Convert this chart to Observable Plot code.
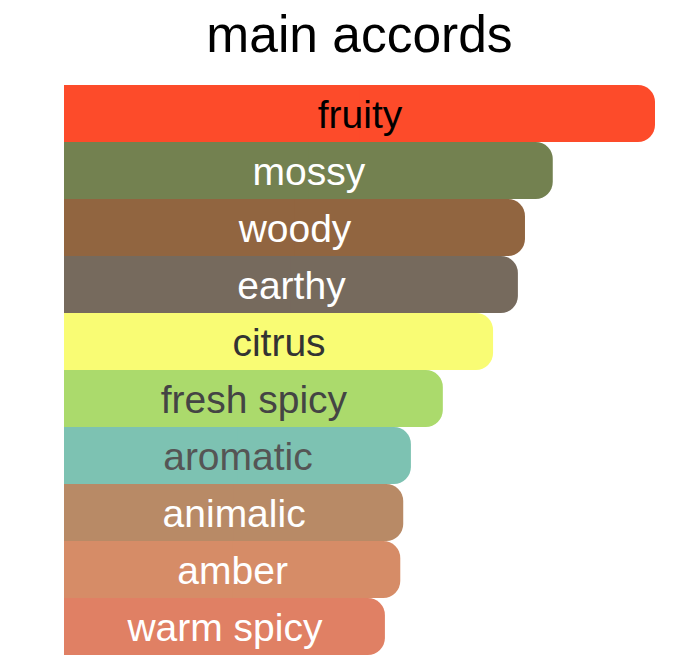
<!DOCTYPE html>
<html>
<head>
<meta charset="utf-8">
<script src="https://cdn.jsdelivr.net/npm/d3@7"></script>
<script src="https://cdn.jsdelivr.net/npm/@observablehq/plot@0.6"></script>
<style>
  html, body { margin: 0; padding: 0; background: #ffffff; }
  #wrap { width: 682px; height: 671px; position: relative; overflow: hidden; }
  #title { position: absolute; left: 64px; width: 591px; top: 9px; text-align: center;
    font-family: "Liberation Sans", Arial, Helvetica, sans-serif; font-size: 51.5px; line-height: 1; color: #000; }
  #chart { position: absolute; left: 0; top: 85px; }
</style>
</head>
<body>
<div id="wrap">
  <div id="title">main accords</div>
  <div id="chart"></div>
</div>
<script>
const accords = ["fruity", "mossy", "woody", "earthy", "citrus", "fresh spicy", "aromatic", "animalic", "amber", "warm spicy"];
const strengths = [100, 82.7, 78.0, 76.8, 72.6, 64.1, 58.7, 57.4, 56.9, 54.3];
const barColors = ["#fd4b2a", "#738150", "#916540", "#766a5d", "#f9fc74", "#abda6c", "#7dc2b2", "#b88a66", "#d68c67", "#e08064"];
const textColors = ["#000000", "#ffffff", "#ffffff", "#ffffff", "#333333", "#444444", "#555555", "#ffffff", "#ffffff", "#ffffff"];

const data = accords.map((name, i) => ({name, value: strengths[i], fill: barColors[i], ink: textColors[i]}));

const plot = Plot.plot({
  width: 682,
  height: 586,
  marginTop: 0,
  marginBottom: 16,
  marginLeft: 64,
  marginRight: 27,
  x: {domain: [0, 100], axis: null},
  y: {domain: accords, axis: null, padding: 0},
  style: {background: "transparent"},
  marks: [
    Plot.barX(data, {y: "name", x: "value", fill: "fill", rx: 17}),
    Plot.barX(data, {y: "name", x1: 0, x2: d => d.value / 2, fill: "fill"}),
    Plot.text(data, {
      y: "name", x: d => d.value / 2, text: "name", fill: "ink",
      fontSize: 39, fontFamily: "Liberation Sans, Arial, Helvetica, sans-serif",
      textAnchor: "middle", dy: 2
    })
  ]
});
document.getElementById("chart").appendChild(plot);
</script>
</body>
</html>
